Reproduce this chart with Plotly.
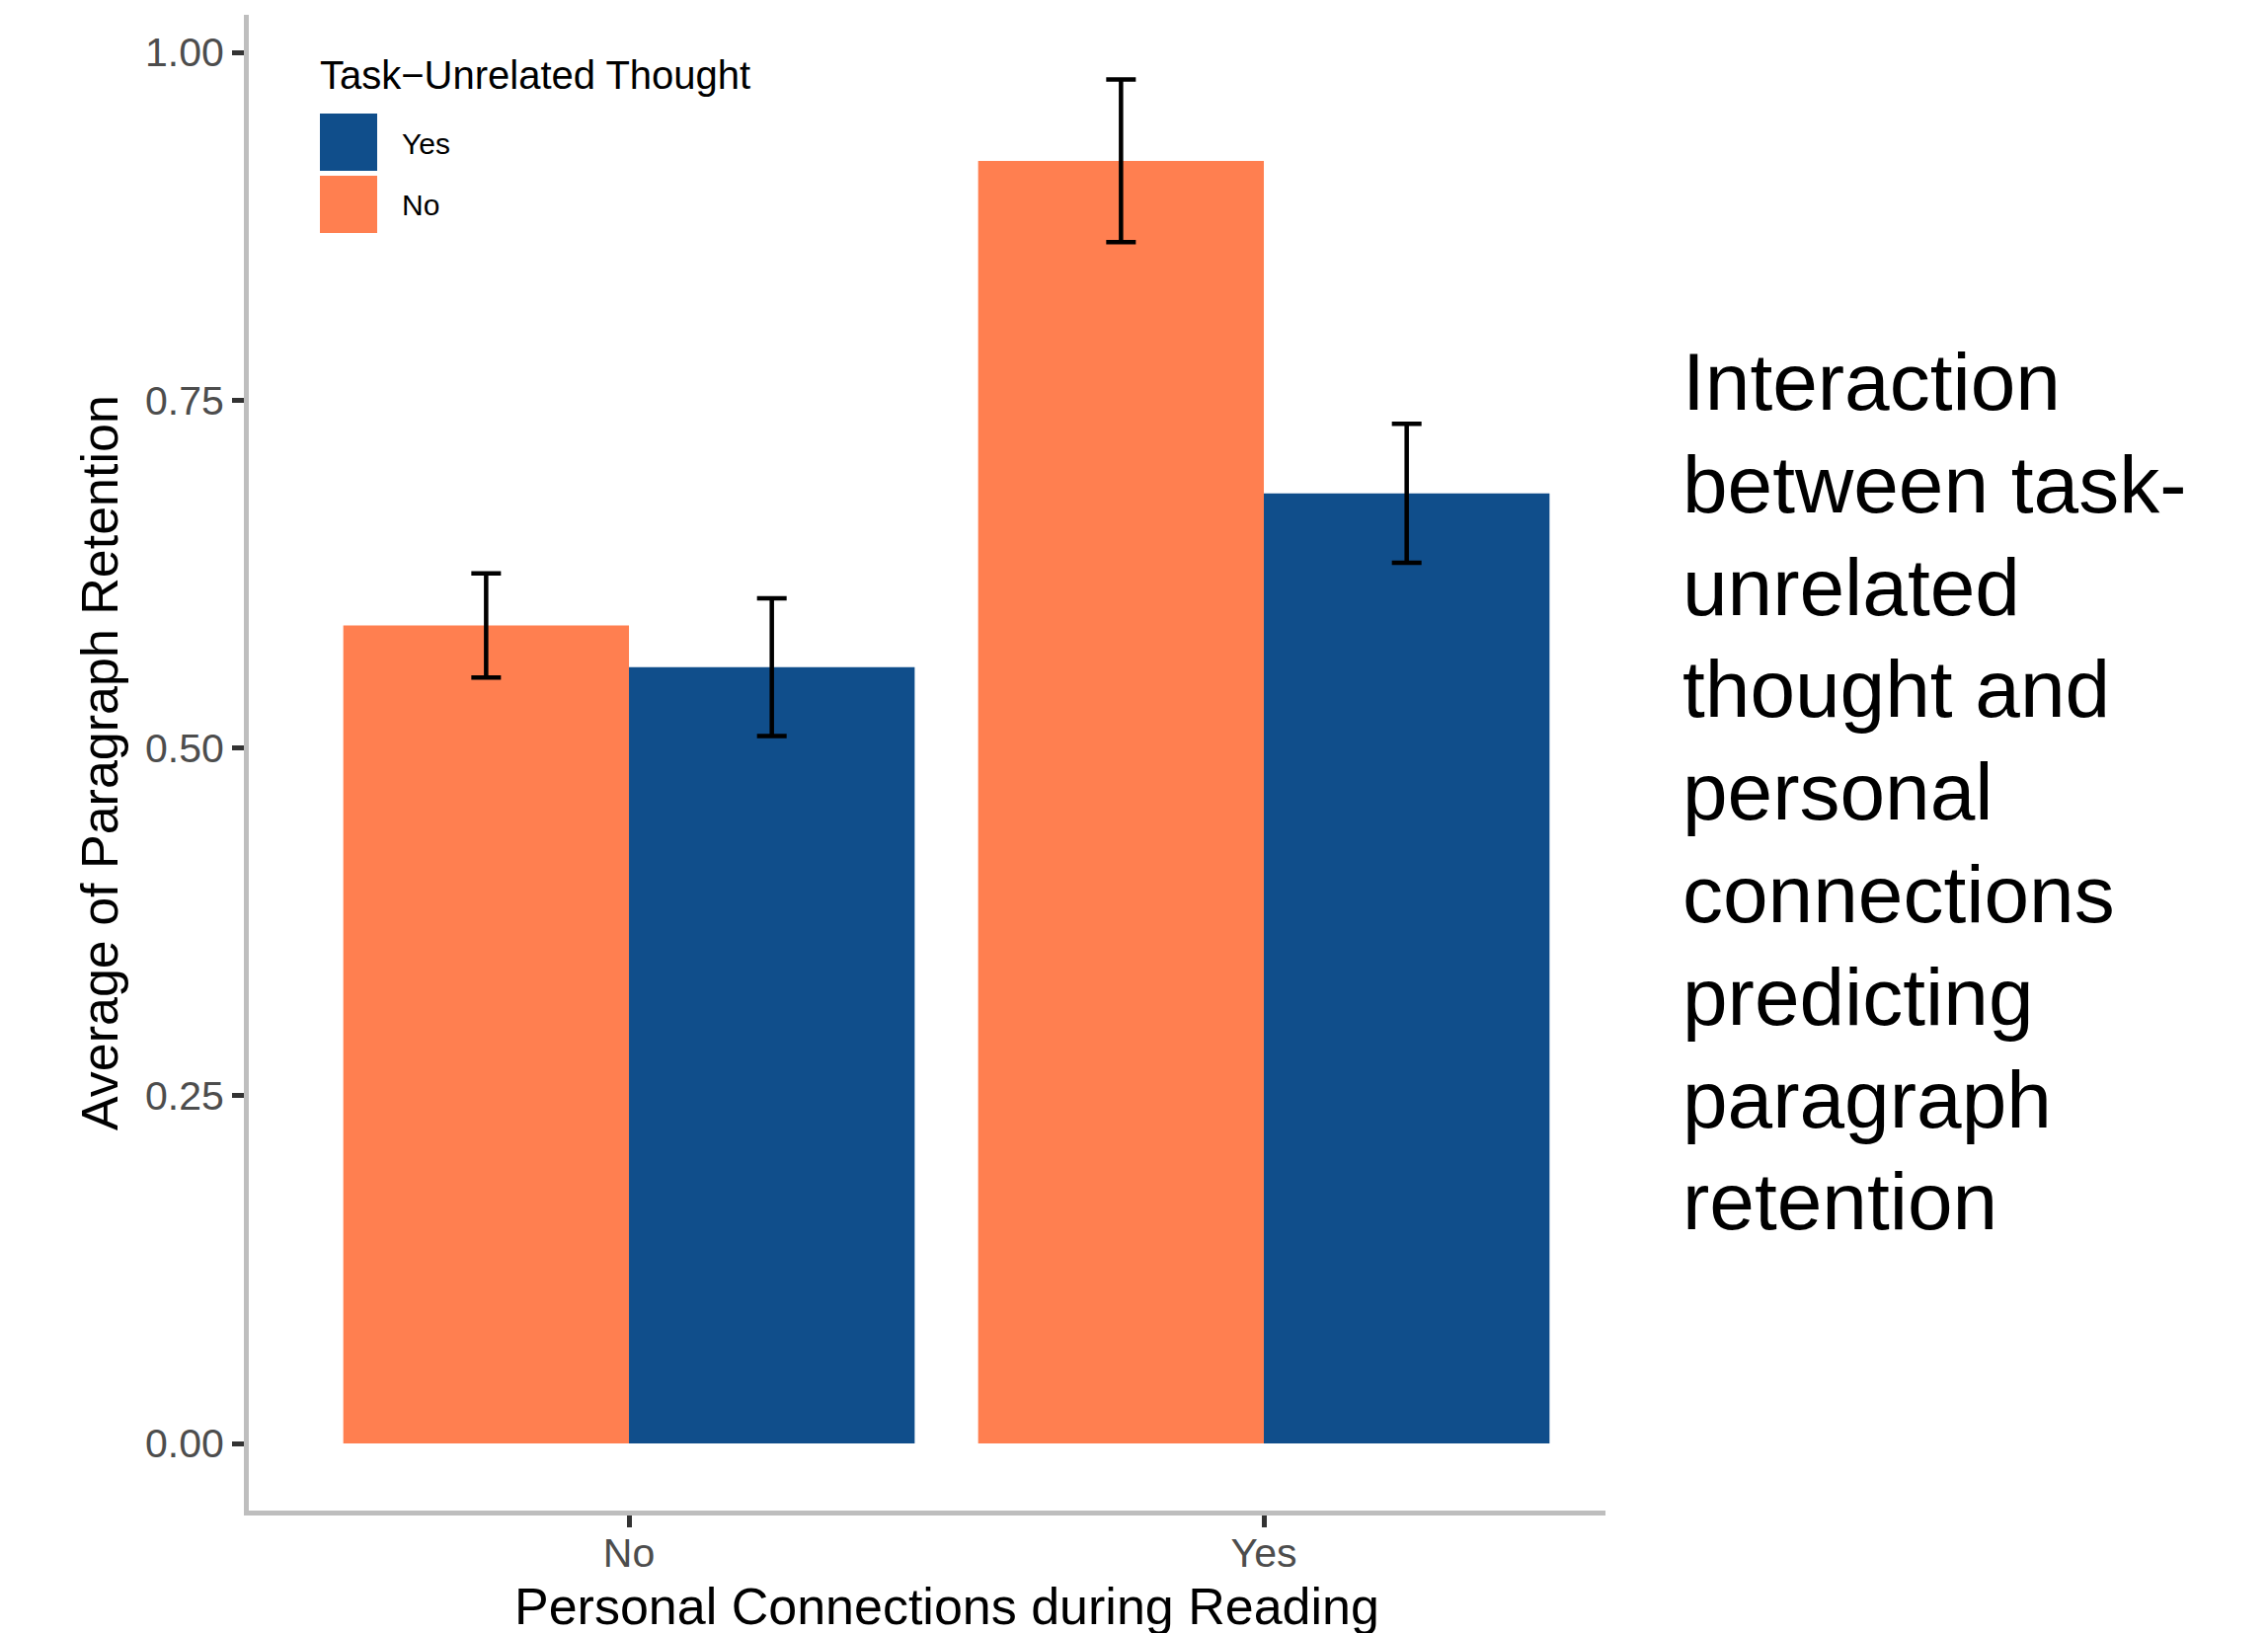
import plotly.graph_objects as go

# Personal connections during reading (x categories)
connections = ["No", "Yes"]

# Task-unrelated thought groups, drawn left (No) to right (Yes) within each category
tut_levels = ["No", "Yes"]
retention_means = {
    "No": [0.588, 0.922],
    "Yes": [0.558, 0.683],
}
retention_se = {
    "No": [0.0375, 0.0585],
    "Yes": [0.0495, 0.0500],
}

# Legend order as shown in the key
legend_order = ["Yes", "No"]

y_tick_vals = [0.0, 0.25, 0.50, 0.75, 1.00]
y_tick_text = ["0.00", "0.25", "0.50", "0.75", "1.00"]

side_text = ["Interaction", "between task-", "unrelated", "thought and", "personal",
             "connections", "predicting", "paragraph", "retention"]

colors = {"No": "#FF7F50", "Yes": "#104E8B"}

W, H = 2297, 1654
ML, MR, MT, MB = 252, 671, 15, 124
PW, PH = W - ML - MR, H - MT - MB

FONT = "Liberation Sans, Arial, Helvetica, sans-serif"


def px_x(px):
    return (px - ML) / PW


def px_y(py):
    return (H - MB - py) / PH


fig = go.Figure()
for lvl in tut_levels:
    fig.add_trace(go.Bar(
        x=connections,
        y=retention_means[lvl],
        name=lvl,
        marker=dict(color=colors[lvl], line=dict(width=0)),
        error_y=dict(type="data", array=retention_se[lvl], visible=True,
                     color="#000000", thickness=4.5, width=15),
        showlegend=False,
    ))

shapes = []
annotations = []

# Hand-built legend key
annotations.append(dict(
    text="Task\u2212Unrelated Thought", x=px_x(322), y=px_y(76),
    xref="paper", yref="paper", xanchor="left", yanchor="middle",
    showarrow=False, font=dict(family=FONT, size=40, color="#000000")))
key_top = 115
for i, lvl in enumerate(legend_order):
    y0 = key_top + i * 63
    shapes.append(dict(type="rect", xref="paper", yref="paper",
                       x0=px_x(324), x1=px_x(382), y0=px_y(y0), y1=px_y(y0 + 58),
                       fillcolor=colors[lvl], line=dict(width=0)))
    annotations.append(dict(
        text=lvl, x=px_x(405), y=px_y(y0 + 30),
        xref="paper", yref="paper", xanchor="left", yanchor="middle",
        showarrow=False, font=dict(family=FONT, size=30, color="#000000")))

# Axis titles
annotations.append(dict(
    text="Personal Connections during Reading", x=px_x(959), y=px_y(1627),
    xref="paper", yref="paper", xanchor="center", yanchor="middle",
    showarrow=False, font=dict(family=FONT, size=52, color="#000000")))
annotations.append(dict(
    text="Average of Paragraph Retention", x=px_x(101), y=px_y(773),
    xref="paper", yref="paper", xanchor="center", yanchor="middle",
    textangle=-90, showarrow=False, font=dict(family=FONT, size=52, color="#000000")))

# Caption block on the right, one line per annotation for exact leading
cap_size = 82
first_baseline, leading = 415, 103.8
for i, line in enumerate(side_text):
    baseline = first_baseline + i * leading
    annotations.append(dict(
        text=line, x=px_x(1702), y=px_y(baseline - 0.3465 * cap_size),
        xref="paper", yref="paper", xanchor="left", yanchor="middle", align="left",
        showarrow=False, font=dict(family=FONT, size=cap_size, color="#000000")))

axis_common = dict(
    showline=True, linecolor="#BEBEBE", linewidth=5,
    ticks="outside", ticklen=12, tickwidth=5, tickcolor="#333333",
    tickfont=dict(family=FONT, size=41, color="#4D4D4D"),
    showgrid=False, zeroline=False,
)

fig.update_layout(
    width=W, height=H,
    margin=dict(l=ML, r=MR, t=MT, b=MB, pad=0),
    paper_bgcolor="white", plot_bgcolor="white",
    barmode="group", bargap=0.1, bargroupgap=0.0,
    xaxis=dict(range=[-0.5988, 1.5381], type="category", ticklabelstandoff=-9,
               **axis_common),
    yaxis=dict(range=[-0.04826, 1.02697], tickvals=y_tick_vals, ticktext=y_tick_text,
               **axis_common),
    shapes=shapes,
    annotations=annotations,
    showlegend=False,
)

fig.write_html("out.html")
